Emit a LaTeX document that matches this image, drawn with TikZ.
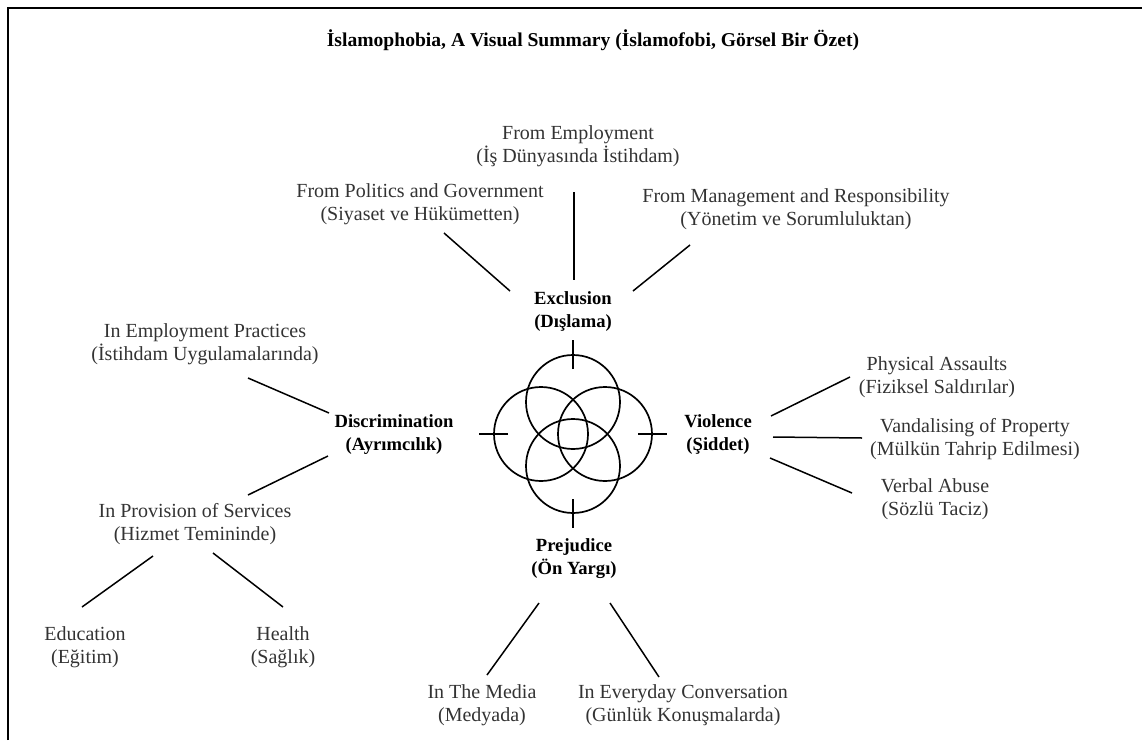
\documentclass[tikz,border=0pt]{standalone}
\usepackage{fontspec}
\setmainfont{Liberation Serif}
\usetikzlibrary{calc}

\begin{document}
\begin{tikzpicture}[
    x=0.5pt, y=-0.5pt,
    heading/.style={font=\fontsize{9.8}{11.5}\selectfont\bfseries},
    theme/.style={align=center, inner sep=0pt, font=\fontsize{9.3}{11.5}\selectfont\bfseries},
    branch/.style={align=center, inner sep=0pt, text=black!80, font=\fontsize{10}{11.5}\selectfont},
    link/.style={line width=0.75pt},
    ring/.style={line width=0.85pt}
  ]
  \useasboundingbox (0,0) rectangle (1142,740);

  % frame, only top and left edges show
  \draw[line width=1.4pt] (8,740) -- (8,8) -- (1142,8);

  \node[heading] (title) at (593,40) {İslamophobia, A Visual Summary (İslamofobi, Görsel Bir Özet)};

  % four main themes
  \node[theme] (excl) at (573,312) {Exclusion\\(Dışlama)};
  \node[theme] (disc) at (394,435) {Discrimination\\(Ayrımcılık)};
  \node[theme] (viol) at (718,435) {Violence\\(Şiddet)};
  \node[theme] (prej) at (574,559) {Prejudice\\(Ön Yargı)};

  % branches
  \node[branch] (emp) at (578,146) {From Employment\\(İş Dünyasında İstihdam)};
  \node[branch] (pol) at (420,204) {From Politics and Government\\(Siyaset ve Hükümetten)};
  \node[branch] (mgmt) at (796,209) {From Management and Responsibility\\(Yönetim ve Sorumluluktan)};
  \node[branch] (practice) at (205,344) {In Employment Practices\\(İstihdam Uygulamalarında)};
  \node[branch] (service) at (195,524) {In Provision of Services\\(Hizmet Temininde)};
  \node[branch] (edu) at (85,647) {Education\\(Eğitim)};
  \node[branch] (health) at (283,647) {Health\\(Sağlık)};
  \node[branch] (phys) at (937,377) {Physical Assaults\\(Fiziksel Saldırılar)};
  \node[branch] (vand) at (975,439) {Vandalising of Property\\(Mülkün Tahrip Edilmesi)};
  \node[branch] (verbal) at (935,499) {Verbal Abuse\\(Sözlü Taciz)};
  \node[branch] (media) at (482,705) {In The Media\\(Medyada)};
  \node[branch] (conv) at (683,705) {In Everyday Conversation\\(Günlük Konuşmalarda)};

  % connectors
  \draw[link] ($(emp)+(-4,46)$) -- ($(excl)+(1,-32)$);
  \draw[link] ($(pol)+(24,29)$) -- ($(excl)+(-63,-21)$);
  \draw[link] ($(mgmt)+(-106,36)$) -- ($(excl)+(60,-21)$);
  \draw[link] ($(practice)+(43,34)$) -- ($(disc)+(-65,-22)$);
  \draw[link] ($(disc)+(-66,21)$) -- ($(service)+(53,-29)$);
  \draw[link] ($(service)+(-42,32)$) -- ($(edu)+(-3,-40)$);
  \draw[link] ($(service)+(18,29)$) -- ($(health)+(0,-40)$);
  \draw[link] ($(viol)+(53,-19)$) -- ($(phys)+(-87,0)$);
  \draw[link] ($(viol)+(55,2)$) -- ($(vand)+(-113,-1)$);
  \draw[link] ($(viol)+(52,23)$) -- ($(verbal)+(-83,-6)$);
  \draw[link] ($(prej)+(-35,44)$) -- ($(media)+(5,-30)$);
  \draw[link] ($(prej)+(36,44)$) -- ($(conv)+(-24,-28)$);

  % overlapping rings with ticks
  \coordinate (hub) at (573,434);
  \foreach \dx/\dy in {0/-32, -32/0, 32/0, 0/32}
    \draw[ring] ($(hub)+(\dx,\dy)$) circle[radius=47];
  \foreach \ax/\ay/\bx/\by in {0/-65/0/-94, -65/0/-94/0, 65/0/94/0, 0/65/0/94}
    \draw[ring] ($(hub)+(\ax,\ay)$) -- ($(hub)+(\bx,\by)$);
\end{tikzpicture}
\end{document}
